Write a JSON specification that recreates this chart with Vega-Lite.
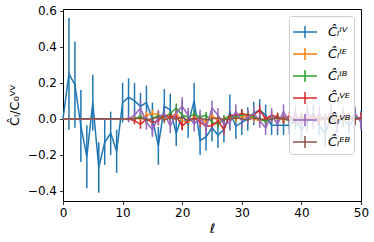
{
"$schema":"https://vega.github.io/schema/vega-lite/v6.json",
"width":298,"height":192,"autosize":"none",
"padding":{"left":63,"top":9,"right":13,"bottom":41},
"data":{"values":[
{"l":0,"s":"IV","v":0,"e":0},{"l":1,"s":"IV","v":0.25,"e":0.31},{"l":2,"s":"IV","v":0.19,"e":0.24},{"l":3,"s":"IV","v":-0.04,"e":0.2},{"l":4,"s":"IV","v":-0.21,"e":0.175},{"l":5,"s":"IV","v":0.09,"e":0.155},{"l":6,"s":"IV","v":-0.27,"e":0.14},{"l":7,"s":"IV","v":-0.13,"e":0.125},{"l":8,"s":"IV","v":-0.08,"e":0.12},{"l":9,"s":"IV","v":-0.18,"e":0.12},{"l":10,"s":"IV","v":0.09,"e":0.11},
{"l":11,"s":"IV","v":0.12,"e":0.105},{"l":12,"s":"IV","v":0.1,"e":0.1},{"l":13,"s":"IV","v":0.07,"e":0.075},{"l":14,"s":"IV","v":0.09,"e":0.095},{"l":15,"s":"IV","v":0.0,"e":0.09},{"l":16,"s":"IV","v":-0.15,"e":0.105},{"l":17,"s":"IV","v":0.07,"e":0.095},{"l":18,"s":"IV","v":0.05,"e":0.09},{"l":19,"s":"IV","v":-0.08,"e":0.07},{"l":20,"s":"IV","v":0.02,"e":0.08},
{"l":21,"s":"IV","v":-0.03,"e":0.075},{"l":22,"s":"IV","v":0.1,"e":0.1},{"l":23,"s":"IV","v":-0.12,"e":0.08},{"l":24,"s":"IV","v":-0.1,"e":0.075},{"l":25,"s":"IV","v":-0.05,"e":0.075},{"l":26,"s":"IV","v":-0.09,"e":0.07},{"l":27,"s":"IV","v":-0.06,"e":0.07},{"l":28,"s":"IV","v":0.035,"e":0.1},{"l":29,"s":"IV","v":-0.04,"e":0.07},{"l":30,"s":"IV","v":-0.02,"e":0.07},
{"l":31,"s":"IV","v":0.0,"e":0.065},{"l":32,"s":"IV","v":0.03,"e":0.065},{"l":33,"s":"IV","v":0.05,"e":0.06},{"l":34,"s":"IV","v":0.02,"e":0.06},{"l":35,"s":"IV","v":-0.035,"e":0.055},{"l":36,"s":"IV","v":-0.035,"e":0.055},{"l":37,"s":"IV","v":-0.035,"e":0.055},{"l":38,"s":"IV","v":-0.035,"e":0.05},{"l":39,"s":"IV","v":-0.01,"e":0.05},{"l":40,"s":"IV","v":-0.06,"e":0.06},
{"l":41,"s":"IV","v":-0.02,"e":0.05},{"l":42,"s":"IV","v":0.03,"e":0.05},{"l":43,"s":"IV","v":-0.04,"e":0.05},{"l":44,"s":"IV","v":-0.08,"e":0.07},{"l":45,"s":"IV","v":0.02,"e":0.05},{"l":46,"s":"IV","v":-0.03,"e":0.05},{"l":47,"s":"IV","v":0.0,"e":0.045},{"l":48,"s":"IV","v":-0.04,"e":0.045},{"l":49,"s":"IV","v":0.01,"e":0.045},{"l":50,"s":"IV","v":0.0,"e":0.045},

{"l":0,"s":"IE","v":0,"e":0},{"l":1,"s":"IE","v":0,"e":0},{"l":2,"s":"IE","v":0,"e":0},{"l":3,"s":"IE","v":0,"e":0},{"l":4,"s":"IE","v":0,"e":0},{"l":5,"s":"IE","v":0,"e":0},{"l":6,"s":"IE","v":0,"e":0},{"l":7,"s":"IE","v":0,"e":0},{"l":8,"s":"IE","v":0,"e":0},{"l":9,"s":"IE","v":0,"e":0},{"l":10,"s":"IE","v":0,"e":0},
{"l":11,"s":"IE","v":0.0,"e":0.01},{"l":12,"s":"IE","v":0.005,"e":0.015},{"l":13,"s":"IE","v":0.0,"e":0.02},{"l":14,"s":"IE","v":0.02,"e":0.02},{"l":15,"s":"IE","v":0.03,"e":0.02},{"l":16,"s":"IE","v":0.025,"e":0.02},{"l":17,"s":"IE","v":0.0,"e":0.02},{"l":18,"s":"IE","v":0.01,"e":0.02},{"l":19,"s":"IE","v":0.03,"e":0.02},{"l":20,"s":"IE","v":-0.01,"e":0.02},
{"l":21,"s":"IE","v":-0.02,"e":0.02},{"l":22,"s":"IE","v":0.01,"e":0.02},{"l":23,"s":"IE","v":0.0,"e":0.02},{"l":24,"s":"IE","v":-0.02,"e":0.02},{"l":25,"s":"IE","v":0.02,"e":0.02},{"l":26,"s":"IE","v":-0.01,"e":0.02},{"l":27,"s":"IE","v":0.0,"e":0.02},{"l":28,"s":"IE","v":0.015,"e":0.02},{"l":29,"s":"IE","v":0.0,"e":0.02},{"l":30,"s":"IE","v":0.01,"e":0.02},
{"l":31,"s":"IE","v":0.015,"e":0.02},{"l":32,"s":"IE","v":0.0,"e":0.02},{"l":33,"s":"IE","v":-0.01,"e":0.02},{"l":34,"s":"IE","v":0.005,"e":0.02},{"l":35,"s":"IE","v":0.01,"e":0.02},{"l":36,"s":"IE","v":0.0,"e":0.02},{"l":37,"s":"IE","v":-0.005,"e":0.02},{"l":38,"s":"IE","v":0.0,"e":0.02},{"l":39,"s":"IE","v":0.01,"e":0.02},{"l":40,"s":"IE","v":-0.01,"e":0.02},
{"l":41,"s":"IE","v":0.005,"e":0.02},{"l":42,"s":"IE","v":0.0,"e":0.02},{"l":43,"s":"IE","v":0.01,"e":0.02},{"l":44,"s":"IE","v":-0.005,"e":0.02},{"l":45,"s":"IE","v":0.0,"e":0.02},{"l":46,"s":"IE","v":0.01,"e":0.02},{"l":47,"s":"IE","v":-0.01,"e":0.02},{"l":48,"s":"IE","v":0.0,"e":0.02},{"l":49,"s":"IE","v":0.005,"e":0.02},{"l":50,"s":"IE","v":0.0,"e":0.02},

{"l":0,"s":"IB","v":0,"e":0},{"l":1,"s":"IB","v":0,"e":0},{"l":2,"s":"IB","v":0,"e":0},{"l":3,"s":"IB","v":0,"e":0},{"l":4,"s":"IB","v":0,"e":0},{"l":5,"s":"IB","v":0,"e":0},{"l":6,"s":"IB","v":0,"e":0},{"l":7,"s":"IB","v":0,"e":0},{"l":8,"s":"IB","v":0,"e":0},{"l":9,"s":"IB","v":0,"e":0},{"l":10,"s":"IB","v":0,"e":0},
{"l":11,"s":"IB","v":0.0,"e":0.01},{"l":12,"s":"IB","v":0.0,"e":0.015},{"l":13,"s":"IB","v":0.015,"e":0.02},{"l":14,"s":"IB","v":-0.01,"e":0.02},{"l":15,"s":"IB","v":0.0,"e":0.02},{"l":16,"s":"IB","v":0.02,"e":0.02},{"l":17,"s":"IB","v":0.01,"e":0.02},{"l":18,"s":"IB","v":0.03,"e":0.02},{"l":19,"s":"IB","v":0.06,"e":0.025},{"l":20,"s":"IB","v":0.02,"e":0.02},
{"l":21,"s":"IB","v":0.01,"e":0.02},{"l":22,"s":"IB","v":0.025,"e":0.02},{"l":23,"s":"IB","v":0.01,"e":0.02},{"l":24,"s":"IB","v":0.02,"e":0.02},{"l":25,"s":"IB","v":-0.02,"e":0.02},{"l":26,"s":"IB","v":-0.03,"e":0.02},{"l":27,"s":"IB","v":0.0,"e":0.02},{"l":28,"s":"IB","v":0.015,"e":0.02},{"l":29,"s":"IB","v":0.01,"e":0.02},{"l":30,"s":"IB","v":0.02,"e":0.02},
{"l":31,"s":"IB","v":0.025,"e":0.02},{"l":32,"s":"IB","v":0.01,"e":0.02},{"l":33,"s":"IB","v":0.0,"e":0.02},{"l":34,"s":"IB","v":-0.015,"e":0.02},{"l":35,"s":"IB","v":0.0,"e":0.02},{"l":36,"s":"IB","v":0.01,"e":0.02},{"l":37,"s":"IB","v":0.0,"e":0.02},{"l":38,"s":"IB","v":-0.01,"e":0.02},{"l":39,"s":"IB","v":0.0,"e":0.02},{"l":40,"s":"IB","v":0.01,"e":0.02},
{"l":41,"s":"IB","v":0.0,"e":0.02},{"l":42,"s":"IB","v":-0.01,"e":0.02},{"l":43,"s":"IB","v":0.005,"e":0.02},{"l":44,"s":"IB","v":0.0,"e":0.02},{"l":45,"s":"IB","v":0.01,"e":0.02},{"l":46,"s":"IB","v":0.0,"e":0.02},{"l":47,"s":"IB","v":-0.005,"e":0.02},{"l":48,"s":"IB","v":0.0,"e":0.02},{"l":49,"s":"IB","v":0.01,"e":0.02},{"l":50,"s":"IB","v":0.0,"e":0.02},

{"l":0,"s":"VE","v":0,"e":0},{"l":1,"s":"VE","v":0,"e":0},{"l":2,"s":"VE","v":0,"e":0},{"l":3,"s":"VE","v":0,"e":0},{"l":4,"s":"VE","v":0,"e":0},{"l":5,"s":"VE","v":0,"e":0},{"l":6,"s":"VE","v":0,"e":0},{"l":7,"s":"VE","v":0,"e":0},{"l":8,"s":"VE","v":0,"e":0},{"l":9,"s":"VE","v":0,"e":0},{"l":10,"s":"VE","v":0,"e":0},
{"l":11,"s":"VE","v":0.0,"e":0.01},{"l":12,"s":"VE","v":-0.01,"e":0.02},{"l":13,"s":"VE","v":-0.03,"e":0.025},{"l":14,"s":"VE","v":0.0,"e":0.025},{"l":15,"s":"VE","v":-0.02,"e":0.025},{"l":16,"s":"VE","v":-0.01,"e":0.025},{"l":17,"s":"VE","v":0.02,"e":0.025},{"l":18,"s":"VE","v":0.01,"e":0.025},{"l":19,"s":"VE","v":0.015,"e":0.025},{"l":20,"s":"VE","v":-0.04,"e":0.025},
{"l":21,"s":"VE","v":-0.01,"e":0.025},{"l":22,"s":"VE","v":0.005,"e":0.025},{"l":23,"s":"VE","v":-0.02,"e":0.025},{"l":24,"s":"VE","v":-0.04,"e":0.025},{"l":25,"s":"VE","v":-0.04,"e":0.025},{"l":26,"s":"VE","v":-0.01,"e":0.025},{"l":27,"s":"VE","v":-0.06,"e":0.025},{"l":28,"s":"VE","v":0.02,"e":0.025},{"l":29,"s":"VE","v":0.02,"e":0.025},{"l":30,"s":"VE","v":0.03,"e":0.025},
{"l":31,"s":"VE","v":0.02,"e":0.025},{"l":32,"s":"VE","v":0.02,"e":0.025},{"l":33,"s":"VE","v":0.05,"e":0.025},{"l":34,"s":"VE","v":0.0,"e":0.025},{"l":35,"s":"VE","v":0.02,"e":0.025},{"l":36,"s":"VE","v":0.01,"e":0.025},{"l":37,"s":"VE","v":0.0,"e":0.025},{"l":38,"s":"VE","v":0.015,"e":0.025},{"l":39,"s":"VE","v":-0.01,"e":0.025},{"l":40,"s":"VE","v":0.01,"e":0.025},
{"l":41,"s":"VE","v":0.0,"e":0.025},{"l":42,"s":"VE","v":0.015,"e":0.025},{"l":43,"s":"VE","v":-0.01,"e":0.025},{"l":44,"s":"VE","v":0.005,"e":0.025},{"l":45,"s":"VE","v":0.0,"e":0.025},{"l":46,"s":"VE","v":-0.01,"e":0.025},{"l":47,"s":"VE","v":0.01,"e":0.025},{"l":48,"s":"VE","v":0.0,"e":0.025},{"l":49,"s":"VE","v":-0.005,"e":0.025},{"l":50,"s":"VE","v":0.01,"e":0.025},

{"l":0,"s":"VB","v":0,"e":0},{"l":1,"s":"VB","v":0,"e":0},{"l":2,"s":"VB","v":0,"e":0},{"l":3,"s":"VB","v":0,"e":0},{"l":4,"s":"VB","v":0,"e":0},{"l":5,"s":"VB","v":0,"e":0},{"l":6,"s":"VB","v":0,"e":0},{"l":7,"s":"VB","v":0,"e":0},{"l":8,"s":"VB","v":0,"e":0},{"l":9,"s":"VB","v":0,"e":0},{"l":10,"s":"VB","v":0,"e":0},
{"l":11,"s":"VB","v":0.0,"e":0.02},{"l":12,"s":"VB","v":0.02,"e":0.03},{"l":13,"s":"VB","v":0.06,"e":0.04},{"l":14,"s":"VB","v":-0.02,"e":0.04},{"l":15,"s":"VB","v":-0.06,"e":0.04},{"l":16,"s":"VB","v":0.01,"e":0.04},{"l":17,"s":"VB","v":0.03,"e":0.04},{"l":18,"s":"VB","v":-0.04,"e":0.04},{"l":19,"s":"VB","v":0.03,"e":0.04},{"l":20,"s":"VB","v":0.07,"e":0.05},
{"l":21,"s":"VB","v":0.02,"e":0.04},{"l":22,"s":"VB","v":-0.03,"e":0.04},{"l":23,"s":"VB","v":0.01,"e":0.04},{"l":24,"s":"VB","v":-0.05,"e":0.04},{"l":25,"s":"VB","v":0.06,"e":0.04},{"l":26,"s":"VB","v":0.02,"e":0.04},{"l":27,"s":"VB","v":-0.03,"e":0.04},{"l":28,"s":"VB","v":-0.02,"e":0.04},{"l":29,"s":"VB","v":0.04,"e":0.04},{"l":30,"s":"VB","v":-0.01,"e":0.04},
{"l":31,"s":"VB","v":0.01,"e":0.04},{"l":32,"s":"VB","v":0.03,"e":0.04},{"l":33,"s":"VB","v":-0.01,"e":0.04},{"l":34,"s":"VB","v":-0.05,"e":0.04},{"l":35,"s":"VB","v":0.02,"e":0.04},{"l":36,"s":"VB","v":-0.03,"e":0.04},{"l":37,"s":"VB","v":0.04,"e":0.04},{"l":38,"s":"VB","v":-0.02,"e":0.04},{"l":39,"s":"VB","v":0.03,"e":0.04},{"l":40,"s":"VB","v":-0.04,"e":0.04},
{"l":41,"s":"VB","v":0.05,"e":0.04},{"l":42,"s":"VB","v":-0.02,"e":0.04},{"l":43,"s":"VB","v":0.03,"e":0.04},{"l":44,"s":"VB","v":-0.01,"e":0.04},{"l":45,"s":"VB","v":0.04,"e":0.04},{"l":46,"s":"VB","v":-0.03,"e":0.04},{"l":47,"s":"VB","v":0.02,"e":0.04},{"l":48,"s":"VB","v":0.0,"e":0.04},{"l":49,"s":"VB","v":0.03,"e":0.04},{"l":50,"s":"VB","v":-0.02,"e":0.04},

{"l":0,"s":"EB","v":0,"e":0},{"l":1,"s":"EB","v":0,"e":0},{"l":2,"s":"EB","v":0,"e":0},{"l":3,"s":"EB","v":0,"e":0},{"l":4,"s":"EB","v":0,"e":0},{"l":5,"s":"EB","v":0,"e":0},{"l":6,"s":"EB","v":0,"e":0},{"l":7,"s":"EB","v":0,"e":0},{"l":8,"s":"EB","v":0,"e":0},{"l":9,"s":"EB","v":0,"e":0},{"l":10,"s":"EB","v":0,"e":0},
{"l":11,"s":"EB","v":0.0,"e":0.005},{"l":12,"s":"EB","v":0.0,"e":0.008},{"l":13,"s":"EB","v":0.005,"e":0.01},{"l":14,"s":"EB","v":-0.005,"e":0.01},{"l":15,"s":"EB","v":0.0,"e":0.01},{"l":16,"s":"EB","v":0.01,"e":0.01},{"l":17,"s":"EB","v":-0.005,"e":0.01},{"l":18,"s":"EB","v":0.005,"e":0.01},{"l":19,"s":"EB","v":0.0,"e":0.01},{"l":20,"s":"EB","v":0.01,"e":0.01},
{"l":21,"s":"EB","v":-0.01,"e":0.01},{"l":22,"s":"EB","v":0.0,"e":0.01},{"l":23,"s":"EB","v":0.005,"e":0.01},{"l":24,"s":"EB","v":-0.005,"e":0.01},{"l":25,"s":"EB","v":0.0,"e":0.01},{"l":26,"s":"EB","v":0.005,"e":0.01},{"l":27,"s":"EB","v":-0.005,"e":0.01},{"l":28,"s":"EB","v":0.0,"e":0.01},{"l":29,"s":"EB","v":0.005,"e":0.01},{"l":30,"s":"EB","v":0.0,"e":0.01},
{"l":31,"s":"EB","v":-0.005,"e":0.01},{"l":32,"s":"EB","v":0.005,"e":0.01},{"l":33,"s":"EB","v":0.0,"e":0.01},{"l":34,"s":"EB","v":-0.005,"e":0.01},{"l":35,"s":"EB","v":0.0,"e":0.01},{"l":36,"s":"EB","v":0.005,"e":0.01},{"l":37,"s":"EB","v":0.0,"e":0.01},{"l":38,"s":"EB","v":-0.005,"e":0.01},{"l":39,"s":"EB","v":0.0,"e":0.01},{"l":40,"s":"EB","v":0.005,"e":0.01},
{"l":41,"s":"EB","v":0.0,"e":0.01},{"l":42,"s":"EB","v":-0.005,"e":0.01},{"l":43,"s":"EB","v":0.0,"e":0.01},{"l":44,"s":"EB","v":0.005,"e":0.01},{"l":45,"s":"EB","v":0.0,"e":0.01},{"l":46,"s":"EB","v":-0.005,"e":0.01},{"l":47,"s":"EB","v":0.0,"e":0.01},{"l":48,"s":"EB","v":0.005,"e":0.01},{"l":49,"s":"EB","v":0.0,"e":0.01},{"l":50,"s":"EB","v":0.0,"e":0.01}
]},
"config":{
 "font":"DejaVu Sans",
 "view":{"stroke":"#000000","strokeWidth":1},
 "axis":{"grid":false,"domain":false,"tickColor":"#000000","tickSize":3.5,"tickWidth":0.8,"labelColor":"#000000","labelFontSize":12,"labelFont":"DejaVu Sans","titleColor":"#000000","titleFont":"DejaVu Sans","titleFontWeight":"normal","labelPadding":3,"labelOverlap":false,"labelFlush":false},
 "legend":{"orient":"top-right","offset":7,"padding":3,"strokeColor":"#cccccc","fillColor":"rgba(255,255,255,0.8)","cornerRadius":3,"symbolType":"M-1,0H1M0,-0.5V0.5","symbolSize":576,"symbolStrokeWidth":1.5,"symbolFillColor":"transparent","labelFontSize":13,"labelFont":"DejaVu Sans","labelFontStyle":"italic","labelColor":"#000000","rowPadding":0,"labelOffset":10,"title":null}
},
"encoding":{
 "x":{"field":"l","type":"quantitative","scale":{"domain":[0,50],"nice":false,"zero":false},"axis":{"values":[0,10,20,30,40,50],"title":"ℓ","titleFontSize":13,"titleFontStyle":"italic","titlePadding":4}},
 "y":{"field":"v","type":"quantitative","scale":{"domain":[-0.456,0.61],"nice":false,"zero":false},"axis":{"values":[-0.4,-0.2,0,0.2,0.4,0.6],"format":".1f","title":"Ĉₗ/C₀ⱽⱽ","titleFontSize":13,"titlePadding":6}},
 "color":{"field":"s","type":"nominal","scale":{"domain":["IV","IE","IB","VE","VB","EB"],"range":["#1f77b4","#ff7f0e","#2ca02c","#d62728","#9467bd","#8c564b"]},"legend":{"labelExpr":"datum.label == 'IV' ? 'Ĉₗᴵⱽ' : datum.label == 'IE' ? 'Ĉₗᴵᴱ' : datum.label == 'IB' ? 'Ĉₗᴵᴮ' : datum.label == 'VE' ? 'Ĉₗⱽᴱ' : datum.label == 'VB' ? 'Ĉₗⱽᴮ' : 'Ĉₗᴱᴮ'"}}
},
"layer":[
 {"mark":{"type":"errorbar","ticks":false,"thickness":1.5},
  "encoding":{"yError":{"field":"e"}}},
 {"mark":{"type":"line","strokeWidth":1.5},
  "encoding":{}}
]
}
